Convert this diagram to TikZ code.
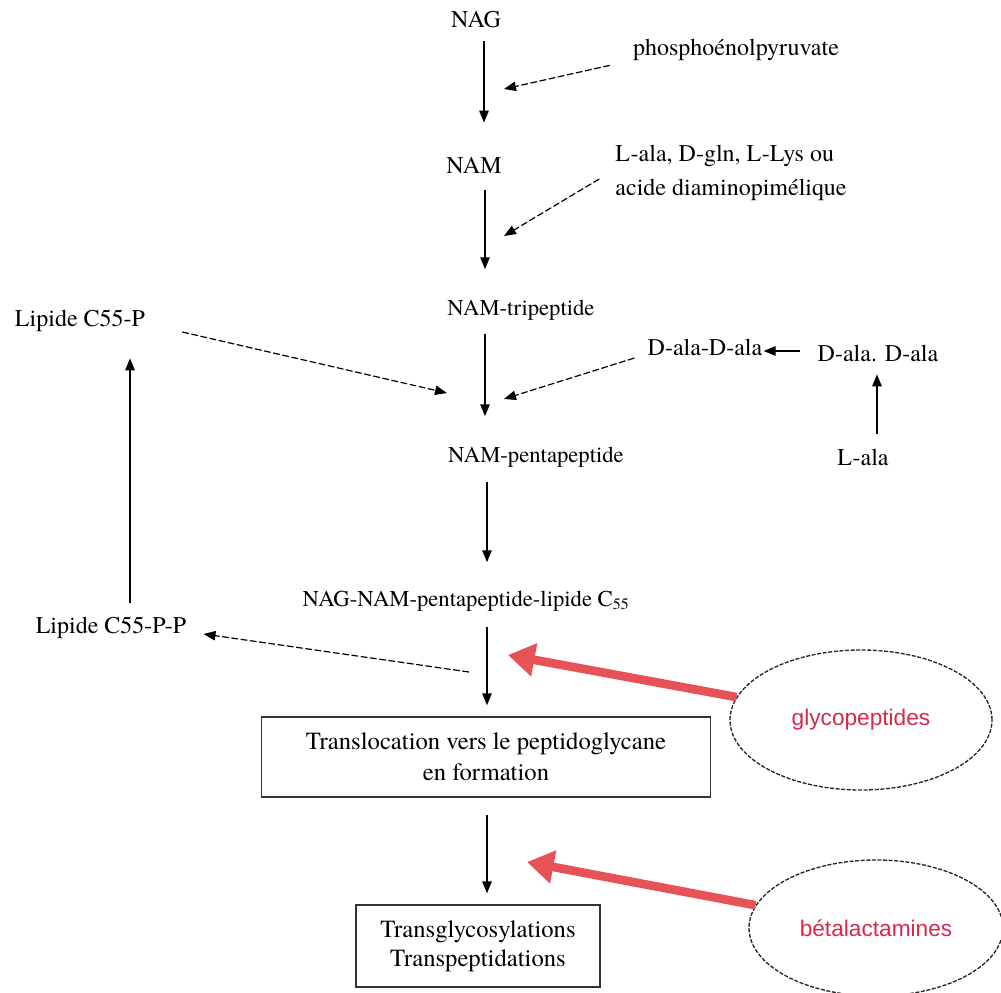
\documentclass[tikz,border=0pt]{standalone}
\usepackage{fontspec}
\IfFontExistsTF{texgyretermes-regular.otf}
  {\setmainfont{texgyretermes-regular.otf}}
  {\setmainfont{Liberation Serif}}
\newfontfamily\sansf{Liberation Sans}
\usetikzlibrary{arrows.meta,shapes.geometric,calc}
\definecolor{redarr}{RGB}{230,82,86}
\definecolor{redtxt}{RGB}{215,40,80}
\tikzset{
  lbl/.style={inner sep=0pt, text height=12.6pt, text depth=4pt, font=\fontsize{18}{21}\selectfont},
  lbls/.style={inner sep=0pt, text height=11.9pt, text depth=3.8pt, font=\fontsize{17}{20}\selectfont},
  arr/.style={line width=1.3pt, -{Triangle[length=9pt,width=7pt]}},
  darr/.style={line width=0.9pt, dash pattern=on 5pt off 2pt, -{Triangle[length=9pt,width=7pt]}},
  redarrow/.style={draw=redarr, line width=6.5pt, -{Triangle[length=20pt,width=24pt]}},
  boxs/.style={draw=black!80, line width=1pt, inner sep=0pt, align=center},
  ell/.style={ellipse, draw=black!85, line width=1pt, dash pattern=on 3pt off 1.2pt, inner sep=0pt,
    font=\sansf\fontsize{17}{20}\selectfont, text=redtxt}
}
\begin{document}
\begin{tikzpicture}[x=0.75pt,y=-0.75pt]
\useasboundingbox (0,0) rectangle (1001,993);
\fill[white] (0,0) rectangle (1001,993);
\coordinate (axis) at (485,0);

% main chain
\node[lbl]  (NAG)     at (476,22)  {NAG};
\node[lbl]  (NAM)     at (474,168) {NAM};
\node[lbls] (NAMtri)  at (521,310) {NAM-tripeptide};
\node[lbls] (NAMpen)  at (536,457) {NAM-pentapeptide};
\node[lbls] (NAGNAM)  at (466,601) {NAG-NAM-pentapeptide-lipide C\textsubscript{55}};
\node[boxs, minimum width=336.75pt, minimum height=60pt, font=\fontsize{18.5}{23}\selectfont]
  (trans) at (486,757) {Translocation vers le peptidoglycane\\en formation};
\node[boxs, minimum width=183pt, minimum height=61.5pt, font=\fontsize{18.5}{22}\selectfont]
  (tg) at (478,946) {Transglycosylations\\Transpeptidations};

% side nodes
\node[lbl] (phos)  at (736,50)  {phosphoénolpyruvate};
\node[inner sep=0pt, align=left, font=\fontsize{18}{25}\selectfont] (lala) at (731,173)
  {L-ala, D-gln, L-Lys ou\\acide diaminopimélique};
\node[lbl] (lip)   at (80,321)  {Lipide C55-P};
\node[lbl] (dala2) at (705,350) {D-ala-D-ala};
\node[lbl] (dalas) at (878,356) {D-ala. D-ala};
\node[lbl] (lala2) at (863,460) {L-ala};
\node[lbl] (lippp) at (111,628) {Lipide C55-P-P};

\node[ell, minimum width=196.5pt, minimum height=105pt] (glyco) at (861,720) {glycopeptides};
\node[ell, minimum width=190.5pt, minimum height=102pt] (beta)  at (876,928) {bétalactamines};

% free ends
\coordinate (c1) at (504,89);
\coordinate (c2) at (504,236);
\coordinate (c3) at (447,393);
\coordinate (c4) at (504,399);
\coordinate (c5) at (469,672);
\coordinate (r1) at (508,655);
\coordinate (r2) at (527,862);

% vertical chain arrows
\draw[arr] ($(NAG.south -| axis)+(-1,8)$) -- ($(NAM.north -| axis)+(-1,-34)$);
\draw[arr] ($(NAM.south -| axis)+(0,11)$) -- ($(NAMtri.north -| axis)+(0,-30)$);
\draw[arr] ($(NAMtri.south -| axis)+(0,13)$) -- ($(NAMpen.north -| axis)+(0,-30)$);
\draw[arr] ($(NAMpen.south -| axis)+(2,14)$) -- ($(NAGNAM.north -| axis)+(2,-28)$);
\draw[arr] ($(NAGNAM.south -| axis)+(2,15)$) -- ($(trans.north -| axis)+(2,-11)$);
\draw[arr] ($(trans.south -| axis)+(2,17)$) -- ($(tg.north -| axis)+(2,-11)$);

% dashed inputs
\draw[darr] ($(phos.south west)+(-23,4)$) -- (c1);
\draw[darr] ($(lala.west)+(-16,6)$) -- (c2);
\draw[darr] ($(lip.east)+(37,11)$) -- (c3);
\draw[darr] ($(dala2.west)+(-13,8)$) -- (c4);
\draw[darr] (c5) -- ($(lippp.east)+(17,6)$);

% solid side arrows
\draw[arr] ($(dalas.west)+(-17,-5)$) -- ($(dala2.east)+(1,1)$);
\draw[arr] ($(lala2.north)+(14,-15)$) -- ($(dalas.south)+(-1,7)$);
\draw[arr] ($(lippp.north)+(19,-14)$) -- ($(lip.south)+(50,26)$);

% inhibitors
\draw[redarrow] (glyco) -- (r1);
\draw[redarrow] (beta) -- (r2);
\end{tikzpicture}
\end{document}
